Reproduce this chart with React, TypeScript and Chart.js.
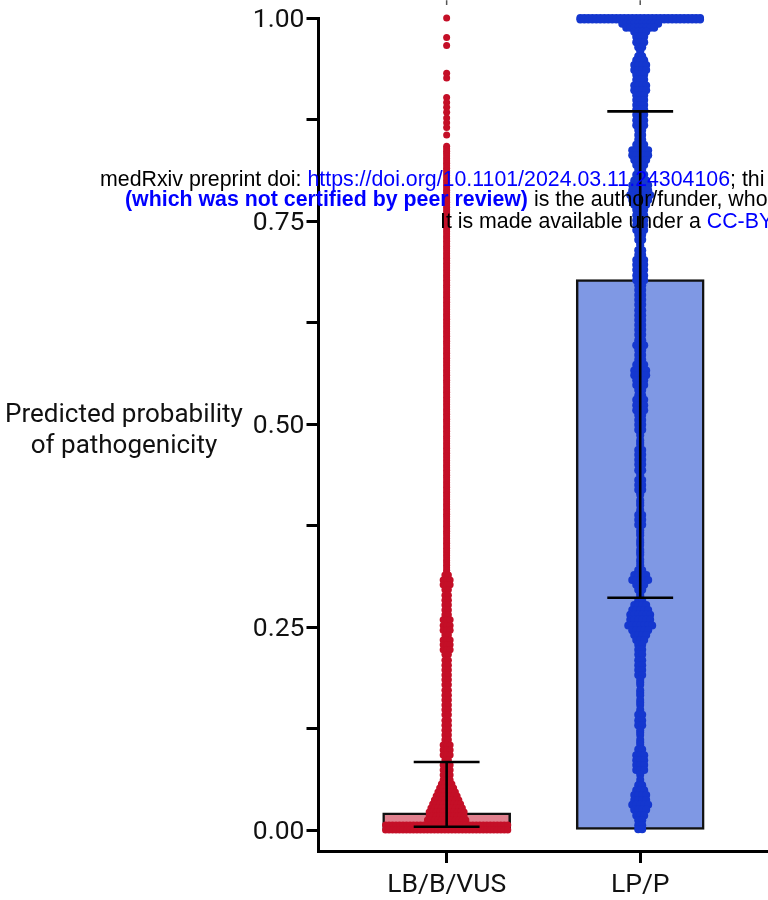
import React, { useEffect, useRef } from "react";
import { Chart, registerables } from "chart.js";

Chart.register(...registerables);

const categories = ["LB/B/VUS", "LP/P"];
const barMeans = [0.021, 0.678];
const errorLow = [0.004, 0.286];
const errorHigh = [0.0837, 0.885];
const yTickValues = [0, 0.125, 0.25, 0.375, 0.5, 0.625, 0.75, 0.875, 1];
const topStubTop = 1.022;
const topStubBottom = 1.016;

// red swarm: isolated high points and the one-dot column
const lbSingles = [
  1.0, 0.976, 0.966, 0.932, 0.926, 0.902, 0.896, 0.89, 0.884, 0.877, 0.871, 0.865, 0.856, 0.842, 0.839, 0.836, 0.833, 0.83, 0.827, 0.824,
  0.821, 0.818, 0.815, 0.812, 0.809, 0.806, 0.803, 0.8, 0.797, 0.794, 0.791, 0.788, 0.785, 0.782, 0.779, 0.776, 0.773, 0.77, 0.767, 0.764,
  0.761, 0.758, 0.755, 0.752, 0.749, 0.746, 0.743, 0.74, 0.737, 0.734, 0.731, 0.728, 0.725, 0.722, 0.719, 0.716, 0.713, 0.71, 0.707, 0.704,
  0.701, 0.698, 0.695, 0.692, 0.689, 0.686, 0.683, 0.68, 0.677, 0.674, 0.671, 0.668, 0.665, 0.662, 0.659, 0.656, 0.653, 0.65, 0.647, 0.644,
  0.641, 0.638, 0.635, 0.632, 0.629, 0.626, 0.623, 0.62, 0.617, 0.614, 0.611, 0.608, 0.605, 0.602, 0.599, 0.596, 0.593, 0.59, 0.587, 0.584,
  0.581, 0.578, 0.575, 0.572, 0.569, 0.566, 0.563, 0.56, 0.557, 0.554, 0.551, 0.548, 0.545, 0.542, 0.539, 0.536, 0.533, 0.53, 0.527, 0.524,
  0.521, 0.518, 0.515, 0.512, 0.509, 0.506, 0.503, 0.5, 0.497, 0.494, 0.491, 0.488, 0.485, 0.482, 0.479, 0.476, 0.473, 0.47, 0.467, 0.464,
  0.461, 0.458, 0.455, 0.452, 0.449, 0.446, 0.443, 0.44, 0.437, 0.434, 0.431, 0.428, 0.425, 0.422, 0.419, 0.416, 0.413, 0.41, 0.407, 0.404,
  0.401, 0.398, 0.395, 0.392, 0.389, 0.386, 0.383, 0.38, 0.377, 0.374, 0.371, 0.368, 0.365, 0.362, 0.359, 0.356, 0.353, 0.35, 0.347, 0.344,
  0.341, 0.338, 0.335, 0.332, 0.329, 0.326, 0.323, 0.32, 0.317, 0.311, 0.305, 0.299, 0.292, 0.286, 0.28, 0.274, 0.268, 0.262, 0.255, 0.249,
  0.243, 0.237, 0.231, 0.225, 0.219, 0.212, 0.206, 0.2, 0.194, 0.188, 0.182, 0.175, 0.169, 0.163, 0.157, 0.151, 0.145, 0.138, 0.132, 0.126,
  0.12, 0.114, 0.108, 0.101, 0.095, 0.089, 0.083, 0.077, 0.071, 0.065,
];
// red swarm: rows that hold several tied dots
const lbRowValues = [
  0.314, 0.308, 0.302, 0.296, 0.289, 0.283, 0.277, 0.271, 0.265, 0.259, 0.252, 0.246, 0.24, 0.234, 0.228, 0.222, 0.216,
  0.209, 0.203, 0.197, 0.191, 0.185, 0.179, 0.172, 0.166, 0.16, 0.154, 0.148, 0.142, 0.135, 0.129, 0.123, 0.117, 0.111,
  0.1047, 0.0985, 0.0924, 0.0862, 0.08, 0.0739, 0.0677, 0.0616, 0.0567, 0.0517, 0.0468, 0.0419, 0.0369, 0.032, 0.0271,
  0.0222, 0.0172, 0.0123, 0.0062, 0,
];
const lbRowCounts = [
  2, 3, 3, 2, 2, 2, 2, 2, 2, 3, 3, 3, 2, 3, 3, 3, 2,
  2, 2, 2, 2, 2, 2, 2, 2, 2, 2, 2, 2, 2, 2, 2, 2, 2,
  3, 3, 3, 2, 3, 3, 3, 3, 4, 5, 6, 7, 8, 9, 10,
  11, 11, 12, 36, 36,
];

// blue swarm rows
const lpRowValues = [
  1.0, 0.998, 0.993, 0.988, 0.983, 0.977, 0.97, 0.964, 0.959, 0.953, 0.948, 0.942, 0.936, 0.93, 0.924, 0.917, 0.911, 0.905,
  0.899, 0.893, 0.887, 0.881, 0.874, 0.868, 0.862, 0.856, 0.85, 0.844, 0.837, 0.831, 0.825, 0.819, 0.813, 0.807, 0.8,
  0.794, 0.788, 0.782, 0.776, 0.77, 0.764, 0.757, 0.751, 0.745, 0.739, 0.733, 0.727, 0.72, 0.714, 0.708, 0.702, 0.696,
  0.69, 0.683, 0.677, 0.671, 0.665, 0.659, 0.653, 0.647, 0.64, 0.634, 0.628, 0.622, 0.616, 0.61, 0.603, 0.597, 0.591,
  0.585, 0.579, 0.573, 0.566, 0.56, 0.554, 0.548, 0.542, 0.535, 0.53, 0.523, 0.517, 0.511, 0.505, 0.499, 0.493, 0.486,
  0.48, 0.474, 0.468, 0.462, 0.456, 0.45, 0.443, 0.437, 0.431, 0.425, 0.419, 0.413, 0.406, 0.4, 0.394, 0.388, 0.382,
  0.376, 0.369, 0.363, 0.357, 0.351, 0.345, 0.339, 0.333, 0.326, 0.32, 0.314, 0.308, 0.302, 0.296, 0.289, 0.283, 0.277,
  0.271, 0.265, 0.259, 0.252, 0.246, 0.24, 0.234, 0.228, 0.222, 0.216, 0.209, 0.203, 0.197, 0.191, 0.185, 0.179, 0.172,
  0.166, 0.16, 0.154, 0.148, 0.142, 0.135, 0.129, 0.123, 0.117, 0.111, 0.105, 0.099, 0.092, 0.086, 0.08, 0.074, 0.068,
  0.062, 0.055, 0.049, 0.043, 0.037, 0.031, 0.025, 0.018, 0.012, 0.006, 0.001,
];
const lpRowCounts = [
  31, 31, 10, 8, 4, 3, 3, 2, 1, 2, 3, 4, 4, 3, 3, 4, 4, 3,
  3, 3, 3, 3, 3, 3, 2, 2, 2, 3, 5, 5, 4, 3, 2, 3, 4,
  5, 5, 6, 5, 4, 3, 3, 3, 3, 3, 2, 2, 1, 2, 2, 3, 3,
  3, 3, 3, 2, 2, 2, 2, 2, 2, 2, 2, 2, 2, 2, 2, 3, 2,
  2, 2, 3, 4, 4, 3, 3, 2, 2, 3, 3, 3, 2, 2, 2, 2, 1,
  1, 1, 2, 2, 2, 2, 2, 1, 2, 2, 2, 1, 1, 1, 1, 2, 2,
  2, 1, 1, 1, 1, 1, 1, 1, 1, 2, 4, 5, 3, 2, 1, 2, 4,
  5, 6, 6, 7, 5, 4, 3, 2, 2, 2, 2, 2, 2, 2, 1, 1, 1,
  1, 1, 1, 1, 2, 2, 2, 1, 1, 1, 1, 2, 3, 3, 3, 3, 1,
  1, 2, 3, 4, 4, 5, 4, 3, 2, 2, 2,
];
// blue swarm: dots lying between the rows along the centre
const lpBetweenRows = [
  0.945, 0.933, 0.921, 0.908, 0.896, 0.884, 0.871, 0.859, 0.847, 0.834, 0.822, 0.81, 0.797, 0.785, 0.773, 0.76, 0.748,
  0.736, 0.723, 0.711, 0.699, 0.686, 0.674, 0.662, 0.65, 0.637, 0.625, 0.613, 0.6, 0.588, 0.576, 0.563, 0.551, 0.538,
  0.526, 0.514, 0.502, 0.49, 0.477, 0.465, 0.453, 0.44, 0.428, 0.416, 0.403, 0.391, 0.379, 0.366, 0.354, 0.342, 0.33,
  0.317, 0.305, 0.292, 0.28, 0.268, 0.255, 0.243, 0.231, 0.219, 0.206, 0.194, 0.182, 0.169, 0.157, 0.145, 0.132, 0.12,
  0.108, 0.095, 0.083, 0.071, 0.058, 0.046, 0.034, 0.022, 0.009,
];

const RED = "#c40f27";
const BLUE = "#1437cf";
const FONT = "Roboto";
const PX_PER_CATEGORY = 194;

function rowsToPoints(cat: number, values: number[], counts: number[], pitchPx: number) {
  const pts: { x: number; y: number }[] = [];
  values.forEach((y, i) => {
    const n = counts[i] ?? 1;
    for (let k = 0; k < n; k++) {
      pts.push({ x: cat + ((k - (n - 1) / 2) * pitchPx) / PX_PER_CATEGORY, y });
    }
  });
  return pts;
}

export default function App() {
  const ref = useRef<HTMLCanvasElement>(null);
  useEffect(() => {
    if (!ref.current) return;
    const lb = [
      ...lbSingles.map((y) => ({ x: 0, y })),
      ...rowsToPoints(0, lbRowValues, lbRowCounts, 3.5),
    ];
    const lp = [
      ...lpBetweenRows.map((y) => ({ x: 1, y })),
      ...rowsToPoints(1, lpRowValues, lpRowCounts, 4),
    ];
    const capHalf = 33 / PX_PER_CATEGORY;
    const line = (data: { x: number; y: number }[], color = "#000", w = 2.6) => ({
      type: "line",
      data,
      borderColor: color,
      borderWidth: w,
      pointRadius: 0,
      showLine: true,
      clip: false,
      order: 0,
    });
    const errorSets = categories.flatMap((_, i) => [
      line([{ x: i, y: errorLow[i] }, { x: i, y: errorHigh[i] }]),
      line([{ x: i - capHalf, y: errorLow[i] }, { x: i + capHalf, y: errorLow[i] }]),
      line([{ x: i - capHalf, y: errorHigh[i] }, { x: i + capHalf, y: errorHigh[i] }]),
      line([{ x: i, y: topStubTop }, { x: i, y: topStubBottom }], "#555", 1.5),
    ]);
    const chart = new Chart(ref.current, {
      type: "bar",
      data: {
        datasets: [
          ...errorSets,
          { type: "scatter", data: lb, backgroundColor: RED, pointRadius: 3.5, pointBorderWidth: 0, clip: false, order: 1 },
          { type: "scatter", data: lp, backgroundColor: BLUE, pointRadius: 4, pointBorderWidth: 0, clip: false, order: 1 },
          {
            type: "bar",
            data: categories.map((_, i) => ({ x: i, y: barMeans[i] })),
            backgroundColor: ["#e0808e", "#7f98e4"],
            borderColor: "#111",
            borderWidth: 2.5,
            borderSkipped: false,
            barThickness: 128,
            order: 2,
          },
        ] as any,
      },
      options: {
        animation: false,
        responsive: false,
        layout: { padding: { top: 18, left: 0, right: 0, bottom: 0 } },
        plugins: { legend: { display: false }, tooltip: { enabled: false } },
        scales: {
          x: {
            type: "linear",
            offset: false,
            min: -0.662,
            max: 1.655,
            afterBuildTicks: (s: any) => {
              s.ticks = categories.map((_, i) => ({ value: i }));
            },
            afterFit: (s: any) => {
              s.height = 49;
            },
            grid: { offset: false, drawOnChartArea: false, drawTicks: true, tickLength: 12, tickWidth: 3, tickColor: "#000" },
            border: { color: "#000", width: 3 },
            ticks: {
              autoSkip: false,
              maxRotation: 0,
              padding: 6,
              color: "#111",
              font: { family: FONT, size: 26.5 },
              callback: (v: any) => categories[v as number] ?? "",
            },
          },
          y: {
            type: "linear",
            min: -0.02586,
            max: 1,
            afterBuildTicks: (s: any) => {
              s.ticks = yTickValues.map((value) => ({ value }));
            },
            afterFit: (s: any) => {
              s.width = 318.5;
            },
            grid: { drawOnChartArea: false, drawTicks: true, tickLength: 12, tickWidth: 3, tickColor: "#000" },
            border: { color: "#000", width: 3 },
            ticks: {
              autoSkip: false,
              padding: 2,
              labelOffset: 2.5,
              color: "#111",
              font: { family: FONT, size: 26.5 },
              callback: (v: any) => (Math.abs((v as number) * 4 - Math.round((v as number) * 4)) < 1e-6 ? (v as number).toFixed(2) : ""),
            },
          },
        },
      },
    } as any);
    return () => chart.destroy();
  }, []);

  const wm: React.CSSProperties = {
    position: "absolute",
    fontFamily: "'Liberation Sans'",
    fontSize: 21.33,
    lineHeight: "22px",
    whiteSpace: "nowrap",
    color: "#000",
  };
  const link: React.CSSProperties = { color: "#0000ff" };
  return (
    <div style={{ position: "absolute", left: 0, top: 0, width: 768, height: 900, overflow: "hidden", background: "#fff" }}>
      <canvas ref={ref} width={771} height={900} style={{ position: "absolute", left: 0, top: 0, width: 771, height: 900 }} />
      <div
        style={{
          position: "absolute",
          left: 0,
          top: 398,
          width: 248,
          textAlign: "center",
          fontFamily: FONT,
          fontSize: 26,
          lineHeight: "31px",
          color: "#111",
        }}
      >
        Predicted probability
        <br />
        of pathogenicity
      </div>
      <div style={{ ...wm, left: 100, top: 168 }}>
        medRxiv preprint doi: <span style={link}>https://doi.org/10.1101/2024.03.11.24304106</span>; thi
      </div>
      <div style={{ ...wm, left: 125, top: 188 }}>
        <span style={{ ...link, fontWeight: 700 }}>(which was not certified by peer review)</span> is the author/funder, who
      </div>
      <div style={{ ...wm, left: 440, top: 210 }}>
        It is made available under a <span style={link}>CC-BY</span>
      </div>
    </div>
  );
}
